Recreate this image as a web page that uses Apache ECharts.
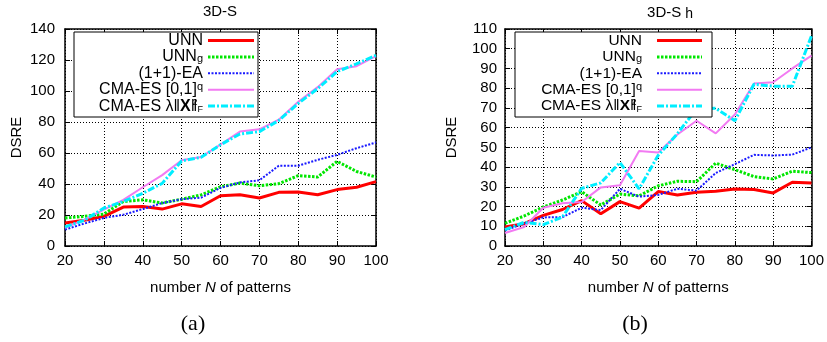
<!DOCTYPE html>
<html><head><meta charset="utf-8">
<script src="https://cdn.jsdelivr.net/npm/echarts@6/dist/echarts.min.js"></script>
<style>html,body{margin:0;padding:0;background:#fff}#c{width:827px;height:342px}</style>
</head><body><div id="c"></div>
<script>
// ---- data ----
const N = [20,25,30,35,40,45,50,55,60,65,70,75,80,85,90,95,100];
const names = ['UNN','UNN_g','(1+1)-EA','CMA-ES [0,1]^q','CMA-ES lambda'];
// (a) 3D-S
const a_UNN  = [14.9,16.6,19.1,25.1,25.5,23.8,27.2,25.5,32.4,33.1,31.0,34.6,34.9,33.1,36.4,37.9,41.5];
const a_UNNg = [18.1,19.1,20.6,28.7,29.8,27.7,30.2,33.0,38.2,40.6,38.9,40.2,45.4,44.5,54.6,48.1,44.5];
const a_EA   = [10.6,14.5,18.1,20.2,23.8,27.7,30.2,31.2,37.5,41.0,42.4,51.8,51.8,55.6,58.8,63.1,66.8];
const a_CMAq = [11.7,17.0,23.4,29.8,37.9,45.7,55.3,57.4,65.5,73.8,75.3,81.5,93.0,102.5,114.0,116.0,122.5];
const a_CMAl = [12.3,16.6,24.5,28.7,34.0,40.4,54.9,57.2,65.3,72.3,73.8,81.0,92.0,101.5,112.5,117.5,123.0];
// (b) 3D-S_h
const b_UNN  = [9.7,11.3,15.5,18.5,23.0,16.3,22.5,19.2,27.6,25.9,27.2,27.7,28.9,28.6,26.9,32.3,31.9];
const b_UNNg = [11.5,15.2,19.8,23.3,27.5,20.8,26.3,25.4,30.5,32.8,32.6,42.0,38.7,35.2,34.0,37.9,37.2];
const b_EA   = [7.9,11.4,14.5,14.6,19.4,18.2,29.0,25.0,25.9,29.0,28.1,37.0,41.5,46.2,45.9,46.3,50.0];
const b_CMAq = [6.6,9.6,19.4,21.7,22.3,29.7,30.8,48.1,47.4,56.5,63.5,57.1,66.7,82.4,83.0,90.0,96.5];
const b_CMAl = [8.3,12.0,10.8,14.7,29.2,32.0,42.3,29.0,46.0,57.0,69.5,69.8,63.5,82.0,81.0,81.0,106.5];
// axes
const xRange = {min:20, max:100, interval:10};
const yRangeA = {min:0, max:140, interval:20};
const yRangeB = {min:0, max:110, interval:10};

// ---- styles ----
const FONT = 'Liberation Sans, Arial, Helvetica, sans-serif';
const styles = [
  {color:'#ff0000', width:3, type:'solid'},
  {color:'#00e600', width:3, type:[2.5,1.5]},
  {color:'#1a1aff', width:2, type:[2,1.5]},
  {color:'#f27af2', width:2, type:'solid'},
  {color:'#00eeff', width:3, type:[7,2,2,2]}
];
const legendLabels = [
  '{n|UNN}',
  '{n|UNN}{sub|g}',
  '{n|(1+1)-EA}',
  '{n|CMA-ES [0,1]}{sup|q}',
  '{n|CMA-ES λ‖}{b|X}{n|‖}{sup2|2}{subz|F}'
];
function legendRich(fs){
  return {
    n:{fontSize:fs, fontFamily:FONT, fill:'#000', color:'#000', lineHeight:16},
    b:{fontSize:fs, fontFamily:FONT, fontWeight:'bold', fill:'#000', color:'#000', lineHeight:16},
    sub:{fontSize:11, fontFamily:FONT, fill:'#000', color:'#000', lineHeight:8, verticalAlign:'bottom'},
    sup:{fontSize:11, fontFamily:FONT, fill:'#000', color:'#000', lineHeight:8, verticalAlign:'top'},
    sup2:{fontSize:9, fontFamily:FONT, fill:'#000', color:'#000', lineHeight:8, verticalAlign:'top', width:0.1},
    subz:{fontSize:9, fontFamily:FONT, fill:'#000', color:'#000', lineHeight:6, verticalAlign:'bottom'}
  };
}
// legend box made with graphic elements (gnuplot-style key)
function mkKey(box, textRight, lineX1, lineX2, fs){
  const children = [{
    type:'rect', shape:{x:box[0], y:box[1], width:box[2]-box[0], height:box[3]-box[1]},
    style:{fill:'#fff', stroke:'#000', lineWidth:1}, z:100
  }];
  for (let i = 0; i < names.length; i++) {
    const y = 40.5 + i * 16.4;
    children.push({type:'text', z:101, style:{text:legendLabels[i], rich:legendRich(fs), x:textRight, y:y,
      align:'right', verticalAlign:'middle', fill:'#000'}});
    const st = styles[i];
    children.push({type:'line', z:101, shape:{x1:lineX1, y1:y, x2:lineX2, y2:y},
      style:{stroke:st.color, lineWidth:st.width, lineDash: Array.isArray(st.type) ? st.type : null}});
  }
  return {type:'group', children};
}

const gridSpec = [{left:65, top:29, width:311, height:217},{left:505, top:29, width:311, height:217}];
const xName = '{n|number }{i|N}{n| of patterns}';
const xNameStyle = {rich:{n:{fontSize:15, fontFamily:FONT, color:'#000'}, i:{fontSize:15, fontFamily:FONT, fontStyle:'italic', color:'#000'}}};
const axisLine = {show:true, onZero:false, lineStyle:{color:'#000', width:1.5}};
const tick = {show:true, inside:true, length:5, lineStyle:{color:'#000', width:1}};
const split = {show:true, lineStyle:{color:'#000', width:1, type:[1,2]}};
const lbl = m => ({color:'#000', fontSize:15, fontFamily:FONT, margin:m});

const xAxes = [], yAxes = [];
[0,1].forEach(g => {
  xAxes.push({type:'value', gridIndex:g, position:'bottom', ...xRange, axisLine, axisTick:tick, splitLine:split,
    axisLabel:lbl(7), name:xName, nameLocation:'middle', nameGap:34, nameTextStyle:xNameStyle});
  xAxes.push({type:'value', gridIndex:g, position:'top', ...xRange, axisLine, axisTick:tick, splitLine:{show:false}, axisLabel:{show:false}});
  const yr = g === 0 ? yRangeA : yRangeB;
  yAxes.push({type:'value', gridIndex:g, position:'left', ...yr, axisLine, axisTick:tick, splitLine:split,
    axisLabel:lbl(g === 0 ? 10 : 8), name:'DSRE', nameLocation:'middle', nameGap: g === 0 ? 41 : 46,
    nameTextStyle:{fontSize:15, fontFamily:FONT, color:'#000'}});
  yAxes.push({type:'value', gridIndex:g, position:'right', ...yr, axisLine, axisTick:tick, splitLine:{show:false}, axisLabel:{show:false}});
});

const dataA = [a_UNN, a_UNNg, a_EA, a_CMAq, a_CMAl];
const dataB = [b_UNN, b_UNNg, b_EA, b_CMAq, b_CMAl];
const series = [];
[dataA, dataB].forEach((set, g) => {
  set.forEach((vals, i) => {
    series.push({
      type:'line', name:names[i], xAxisIndex:g*2, yAxisIndex:g*2,
      data: N.map((x, k) => [x, vals[k]]),
      symbol:'none', showSymbol:false, silent:true,
      lineStyle:{color:styles[i].color, width:styles[i].width, type:styles[i].type},
      itemStyle:{color:styles[i].color}
    });
  });
});

const chart = echarts.init(document.getElementById('c'), null, {renderer:'canvas'});
chart.setOption({
  animation:false,
  backgroundColor:'#fff',
  title:[
    {text:'3D-S', left:220, top:4, padding:0, textAlign:'center', textStyle:{fontSize:15, fontWeight:'normal', fontFamily:FONT, color:'#000'}},
    {text:'{m|3D-S}{s| h}', left:670, top:4, padding:0, textAlign:'center', textStyle:{fontWeight:'normal', rich:{
      m:{fontSize:15, fontWeight:'normal', fontFamily:FONT, color:'#000', lineHeight:17},
      s:{fontSize:14, fontWeight:'normal', fontFamily:FONT, color:'#000', lineHeight:11, verticalAlign:'bottom'}}}},
    {text:'(a)', left:193, top:313, padding:0, textAlign:'center', textStyle:{fontSize:22, fontWeight:'normal', fontFamily:'Liberation Serif, DejaVu Serif, serif', color:'#000'}},
    {text:'(b)', left:635, top:313, padding:0, textAlign:'center', textStyle:{fontSize:22, fontWeight:'normal', fontFamily:'Liberation Serif, DejaVu Serif, serif', color:'#000'}}
  ],
  graphic:[
    mkKey([74,32,258,117], 203, 208, 254, 16),
    mkKey([515,32,712,117], 642, 657, 702, 15.5)
  ],
  grid:gridSpec,
  xAxis:xAxes,
  yAxis:yAxes,
  series:series
});
</script></body></html>
